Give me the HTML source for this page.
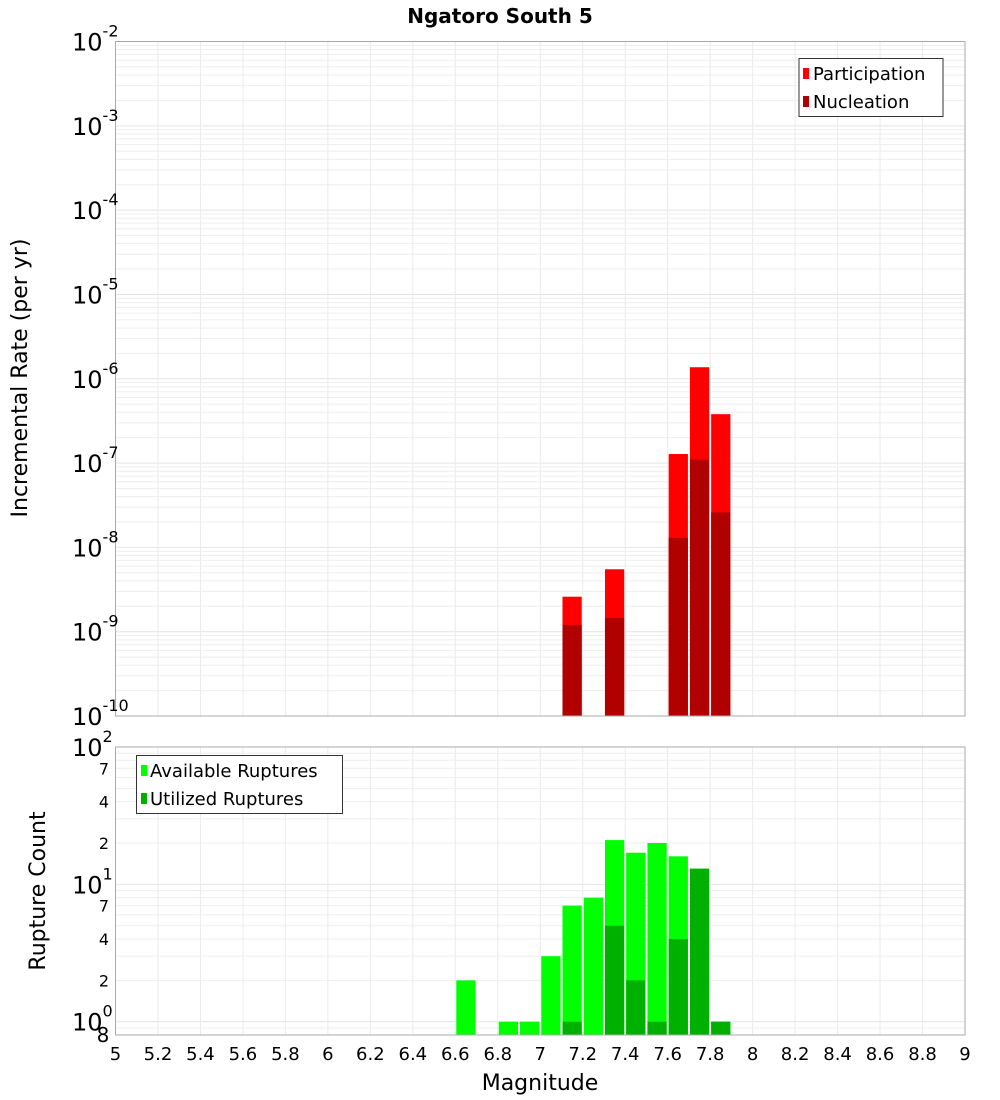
<!DOCTYPE html>
<html><head><meta charset="utf-8"><style>
body{margin:0;background:#fff;}
svg{display:block;font-family:"DejaVu Sans","Liberation Sans",sans-serif;}
</style></head><body>
<svg id="chart" width="1000" height="1100" xmlns="http://www.w3.org/2000/svg"></svg>
<script>
// ---- data ----
const rateBins = [7.15, 7.35, 7.65, 7.75, 7.85];
const participation = [2.6e-9, 5.5e-9, 1.28e-7, 1.37e-6, 3.8e-7];
const nucleation = [1.2e-9, 1.45e-9, 1.3e-8, 1.1e-7, 2.6e-8];
const countBins = [6.65, 6.85, 6.95, 7.05, 7.15, 7.25, 7.35, 7.45, 7.55, 7.65, 7.75, 7.85];
const available = [2, 1, 1, 3, 7, 8, 21, 17, 20, 16, 13, 1];
const utilized = [0, 0, 0, 0, 1, 0, 5, 2, 1, 4, 13, 1];
const xTicks = [5,5.2,5.4,5.6,5.8,6,6.2,6.4,6.6,6.8,7,7.2,7.4,7.6,7.8,8,8.2,8.4,8.6,8.8,9];
const topExps = [-2,-3,-4,-5,-6,-7,-8,-9,-10];
const botMinor = [2,4,7,20,40,70];

const svg = document.getElementById('chart');
const NS = 'http://www.w3.org/2000/svg';
function mk(tag, attrs, parent, text){
  const e = document.createElementNS(NS, tag);
  for (const k in attrs) e.setAttribute(k, attrs[k]);
  if (text !== undefined) e.textContent = text;
  (parent || svg).appendChild(e);
  return e;
}
const L = 115.5, R = 965, T1 = 41.5, B1 = 716, T2 = 747, B2 = 1035;
const x = m => L + (m - 5) / 4 * (R - L);
const y1 = v => T1 + (-2 - Math.log10(v)) / 8 * (B1 - T1);
const lo2 = Math.log10(0.8), hi2 = 2;
const y2 = v => B2 - (Math.log10(v) - lo2) / (hi2 - lo2) * (B2 - T2);
const BW = 0.1;

// title
let t = mk('text', {x: 500, y: 23, 'text-anchor': 'middle', 'font-size': 20, 'font-weight': 'bold'}, svg, 'Ngatoro South 5');



// ---- top plot ----
const g1 = mk('g', {});


for (let e = -10; e < -2; e++) for (let k = 2; k <= 9; k++) {
  const yy = y1(k * Math.pow(10, e));
  mk('line', {x1: L, x2: R, y1: yy, y2: yy, stroke: '#eeeeee', 'stroke-width': 1}, g1);
}
topExps.forEach(e => { const yy = y1(Math.pow(10, e)); mk('line', {x1: L, x2: R, y1: yy, y2: yy, stroke: '#e4e4e4'}, g1); });
xTicks.forEach(m => mk('line', {x1: x(m), x2: x(m), y1: T1, y2: B1, stroke: '#ebebeb'}, g1));
rateBins.forEach((m, i) => {
  let r = mk('rect', {x: x(m - BW/2) + 1, y: y1(participation[i]), width: x(m + BW/2) - x(m - BW/2) - 2, height: B1 - y1(participation[i]), fill: '#ff0000'}, g1);
  
  
  r = mk('rect', {x: x(m - BW/2) + 1, y: y1(nucleation[i]), width: x(m + BW/2) - x(m - BW/2) - 2, height: B1 - y1(nucleation[i]), fill: '#b00000'}, g1);
  
  
});
mk('rect', {x: L, y: T1, width: R - L, height: B1 - T1, fill: 'none', stroke: '#aaaaaa'}, g1);
topExps.forEach(e => {
  const yy = y1(Math.pow(10, e));
  const tx = mk('text', {x: 72, y: yy + 9, 'font-size': 24}, g1);
  
  
  mk('tspan', {}, tx, '10');
  mk('tspan', {dy: -14, 'font-size': 16}, tx, String(e));
});
t = mk('text', {x: 27, y: 378, 'text-anchor': 'middle', 'font-size': 22, transform: 'rotate(-90 27 378)'}, svg, 'Incremental Rate (per yr)');


// legend 1
const lg1 = mk('g', {});


mk('rect', {x: 799, y: 58.5, width: 144, height: 58, fill: '#fff', stroke: '#333'}, lg1);
mk('rect', {x: 803, y: 68, width: 6, height: 11, fill: '#ff0000'}, lg1);
mk('text', {x: 813, y: 80, 'font-size': 18}, lg1, 'Participation');
mk('rect', {x: 803, y: 96, width: 6, height: 11, fill: '#b00000'}, lg1);
mk('text', {x: 813, y: 108, 'font-size': 18}, lg1, 'Nucleation');

// ---- bottom plot ----
const g2 = mk('g', {});


[0.8,0.9,2,3,4,5,6,7,8,9,20,30,40,50,60,70,80,90].forEach(v => { const yy = y2(v); mk('line', {x1: L, x2: R, y1: yy, y2: yy, stroke: '#eeeeee'}, g2); });
[1,10,100].forEach(v => { const yy = y2(v); mk('line', {x1: L, x2: R, y1: yy, y2: yy, stroke: '#e4e4e4'}, g2); });
xTicks.forEach(m => mk('line', {x1: x(m), x2: x(m), y1: T2, y2: B2, stroke: '#ebebeb'}, g2));
countBins.forEach((m, i) => {
  const x0 = x(m - BW/2) + 1, w = x(m + BW/2) - x(m - BW/2) - 2;
  let r = mk('rect', {x: x0, y: y2(available[i]), width: w, height: B2 - y2(available[i]), fill: '#00ff00'}, g2);
  
  
  if (utilized[i] > 0) {
    r = mk('rect', {x: x0, y: y2(utilized[i]), width: w, height: B2 - y2(utilized[i]), fill: '#00b000'}, g2);
    
    
  }
});
mk('rect', {x: L, y: T2, width: R - L, height: B2 - T2, fill: 'none', stroke: '#aaaaaa'}, g2);
[[1,'0'],[10,'1'],[100,'2']].forEach(([v, s]) => {
  const yy = y2(v);
  const tx = mk('text', {x: 72, y: yy + 9, 'font-size': 24}, g2);
  
  
  mk('tspan', {}, tx, '10');
  mk('tspan', {dy: -14, 'font-size': 16}, tx, s);
});
botMinor.forEach(v => {
  const s = String(v).charAt(0);
  const tx = mk('text', {x: 104, y: y2(v) + 6, 'text-anchor': 'middle', 'font-size': 16}, g2, s);
  
  
});
t = mk('text', {x: 103, y: y2(0.8) + 7, 'text-anchor': 'middle', 'font-size': 20}, g2, '8');
t = mk('text', {x: 45, y: 891, 'text-anchor': 'middle', 'font-size': 22, transform: 'rotate(-90 45 891)'}, svg, 'Rupture Count');


xTicks.forEach(m => {
  const tx = mk('text', {x: x(m), y: 1060, 'text-anchor': 'middle', 'font-size': 18}, svg, String(m));
  
  
});
t = mk('text', {x: 540, y: 1090, 'text-anchor': 'middle', 'font-size': 22}, svg, 'Magnitude');


// legend 2
const lg2 = mk('g', {});


mk('rect', {x: 136.5, y: 755.5, width: 206, height: 58, fill: '#fff', stroke: '#333'}, lg2);
mk('rect', {x: 141, y: 765, width: 6, height: 11, fill: '#00ff00'}, lg2);
mk('text', {x: 150, y: 777, 'font-size': 18}, lg2, 'Available Ruptures');
mk('rect', {x: 141, y: 793, width: 6, height: 11, fill: '#00b000'}, lg2);
mk('text', {x: 150, y: 805, 'font-size': 18}, lg2, 'Utilized Ruptures');
</script>
</body></html>
